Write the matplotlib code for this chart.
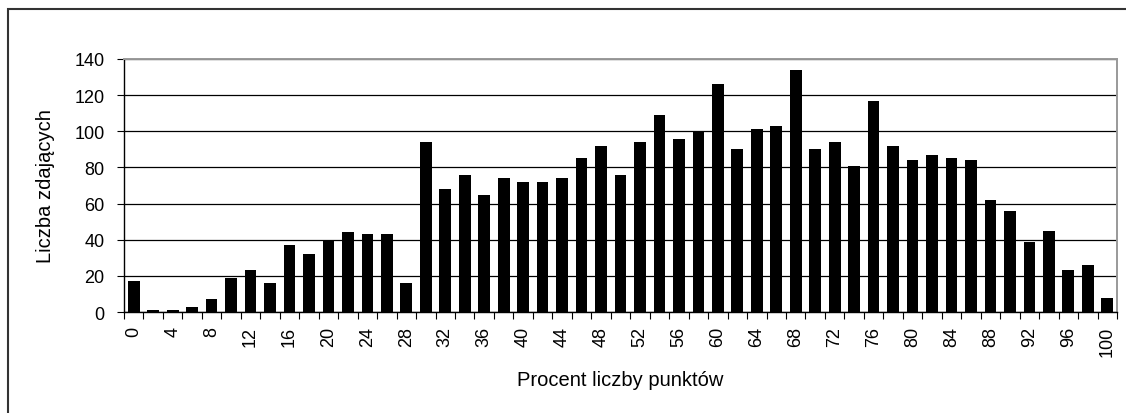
import matplotlib
matplotlib.use("Agg")
import matplotlib.pyplot as plt
from matplotlib.patches import Rectangle
import numpy as np

plt.rcParams["font.family"] = ["Liberation Sans", "DejaVu Sans"]

# procent liczby punktów (kategorie) i liczba zdających
percent = list(range(0, 101, 2))
counts = [17, 1, 1, 3, 7, 19, 23, 16, 37, 32,
          40, 44, 43, 43, 16, 94, 68, 76, 65, 74,
          72, 72, 74, 85, 92, 76, 94, 109, 96, 100,
          126, 90, 101, 103, 134, 90, 94, 81, 117, 92,
          84, 87, 85, 84, 62, 56, 39, 45, 23, 26, 8]
y_ticks = list(range(0, 141, 20))

fig = plt.figure(figsize=(11.26, 4.14), dpi=100)
ax = fig.add_axes([124 / 1126, 1 - 313 / 414, (1117 - 124) / 1126, (313 - 60) / 414])

x = np.arange(len(percent))
ax.bar(x, counts, width=0.6, color="black", zorder=3)

ax.set_xlim(-0.5, len(percent) - 0.5)
ax.set_ylim(0, 140)
ax.set_yticks(y_ticks)
ax.yaxis.grid(True, color="black", lw=0.9, zorder=0)

# znaczniki na granicach kategorii, etykiety co drugą kategorię
ax.set_xticks(np.arange(-0.5, len(percent), 1.0))
ax.set_xticklabels([])
ax.set_xticks(x[::2], minor=True)
ax.set_xticklabels([str(p) for p in percent[::2]], minor=True, rotation=90, fontsize=13)
ax.tick_params(axis="x", which="major", length=5, direction="out", color="black")
ax.tick_params(axis="x", which="minor", length=0, pad=10)
ax.tick_params(axis="y", length=5, direction="out", labelsize=13, pad=9)

for s in ["top", "right"]:
    ax.spines[s].set_color("#999999")
    ax.spines[s].set_linewidth(1.4)
for s in ["left", "bottom"]:
    ax.spines[s].set_color("black")
    ax.spines[s].set_linewidth(1.0)

ax.set_ylabel("Liczba zdających", fontsize=14.5)
ax.set_xlabel("Procent liczby punktów", fontsize=14.5)
ax.yaxis.set_label_coords(-0.069, 0.5)
ax.xaxis.set_label_coords(0.5, -0.23)

fig.patches.append(Rectangle((8 / 1126, -0.2), 1.2, 1.2 - 10 / 414,
                             transform=fig.transFigure, fill=False,
                             edgecolor="#333333", lw=1.5))

fig.savefig("out.png", dpi=100)
